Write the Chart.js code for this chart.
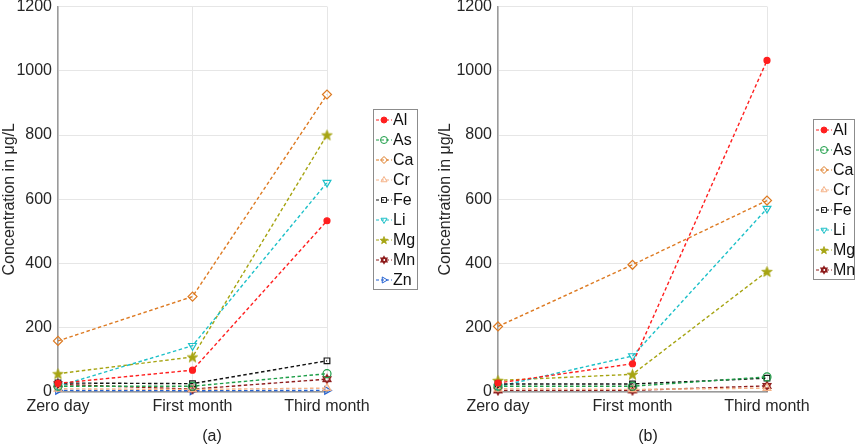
<!DOCTYPE html>
<html>
<head>
<meta charset="utf-8">
<script src="https://cdn.jsdelivr.net/npm/chart.js@4.4.1/dist/chart.umd.min.js"></script>
<style>
  html, body { margin: 0; padding: 0; background: #fff; }
  #wrap { position: relative; width: 858px; height: 447px; }
  .panel { position: absolute; top: 0; width: 429px; height: 447px; }
</style>
</head>
<body>
<div id="wrap">
  <div class="panel" style="left:0"><canvas id="chartA"></canvas></div>
  <div class="panel" style="left:429px"><canvas id="chartB"></canvas></div>
</div>
<script>
// sampling times and y ticks
const categories = ["Zero day", "First month", "Third month"];
const yTicks = [0, 200, 400, 600, 800, 1000, 1200];

// panel (a), µg/L
const elementsA = ["Al", "As", "Ca", "Cr", "Fe", "Li", "Mg", "Mn", "Zn"];
const alA = [27, 68, 533];
const asA = [18, 18, 57];
const caA = [159, 297, 926];
const crA = [10, 8, 12];
const feA = [28, 26, 97];
const liA = [18, 144, 652];
const mgA = [57, 109, 800];
const mnA = [24, 9, 40];
const znA = [5, 4, 5];

// panel (b), µg/L
const elementsB = ["Al", "As", "Ca", "Cr", "Fe", "Li", "Mg", "Mn"];
const alB = [28, 88, 1032];
const asB = [18, 18, 47];
const caB = [204, 396, 596];
const crB = [10, 8, 12];
const feB = [25, 25, 43];
const liB = [17, 112, 571];
const mgB = [36, 55, 375];
const mnB = [5, 5, 19];

const FONT = "'Liberation Sans', Arial, Helvetica, sans-serif";

// markers that chart.js has no built-in style for
function makeStar(color, r) {
    const size = Math.ceil(r * 2 + 2);
    const c = document.createElement("canvas");
    c.width = size; c.height = size;
    const g = c.getContext("2d");
    g.beginPath();
    for (let i = 0; i < 10; i++) {
        const rr = i % 2 === 0 ? r : r * 0.42;
        const a = -Math.PI / 2 + i * Math.PI / 5;
        g.lineTo(size / 2 + rr * Math.cos(a), size / 2 + 0.5 + rr * Math.sin(a));
    }
    g.closePath();
    g.fillStyle = color;
    g.fill();
    g.strokeStyle = color;
    g.lineWidth = 0.8;
    g.stroke();
    return c;
}

function makeHexagram(color, r) {
    const size = Math.ceil(r * 2 + 3);
    const c = document.createElement("canvas");
    c.width = size; c.height = size;
    const g = c.getContext("2d");
    g.strokeStyle = color;
    g.lineWidth = 1.3;
    [-Math.PI / 2, Math.PI / 2].forEach(function (start) {
        g.beginPath();
        for (let i = 0; i < 3; i++) {
            const a = start + i * 2 * Math.PI / 3;
            g.lineTo(size / 2 + r * Math.cos(a), size / 2 + r * Math.sin(a));
        }
        g.closePath();
        g.stroke();
    });
    return c;
}

const styles = {
    Al: { color: "#ff1f1f", pointStyle: "circle", radius: 3, fill: true },
    As: { color: "#1e9e48", pointStyle: "circle", radius: 4 },
    Ca: { color: "#dd7a22", pointStyle: "rectRot", radius: 4.5 },
    Cr: { color: "#f5b287", pointStyle: "triangle", radius: 4.5 },
    Fe: { color: "#141414", pointStyle: "rect", radius: 4 },
    Li: { color: "#1cc0c8", pointStyle: "triangle", radius: 4.5, rotation: 180 },
    Mg: { color: "#a6a412", pointStyle: makeStar("#a6a412", 5.5), legendStyle: makeStar("#a6a412", 4), radius: 5 },
    Mn: { color: "#8e1c1c", pointStyle: makeHexagram("#8e1c1c", 4.5), legendStyle: makeHexagram("#8e1c1c", 3.5), radius: 5 },
    Zn: { color: "#2462d2", pointStyle: "triangle", radius: 4.5, rotation: 90 },
};

function buildDataset(name, values) {
    const s = styles[name];
    return {
        label: name,
        data: values,
        borderColor: s.color,
        backgroundColor: s.color,
        borderWidth: 1.4,
        borderDash: [3.5, 2.5],
        tension: 0,
        fill: false,
        clip: false,
        pointStyle: s.pointStyle,
        pointRotation: s.rotation || 0,
        pointRadius: s.radius,
        pointBorderWidth: 1.2,
        pointBorderColor: s.color,
        pointBackgroundColor: s.fill ? s.color : "rgba(0,0,0,0)",
    };
}

// legend box (matlab style) + panel letter
const panelDecor = {
    id: "panelDecor",
    afterDraw(chart, args, opts) {
        const ctx = chart.ctx;
        const ca = chart.chartArea;
        const ds = chart.data.datasets;
        const rowH = 20;
        const h = ds.length * rowH;
        const top = Math.round((ca.top + ca.bottom) / 2 - h / 2);
        const left = opts.legendLeft;
        ctx.save();
        ctx.fillStyle = "#fff";
        ctx.fillRect(left, top, opts.legendWidth, h);
        ctx.strokeStyle = "#8c8c8c";
        ctx.lineWidth = 1;
        ctx.strokeRect(left + 0.5, top + 0.5, opts.legendWidth, h);
        ds.forEach(function (d, i) {
            const s = styles[d.label];
            const cy = top + rowH / 2 + i * rowH + 1;
            ctx.setLineDash([3, 2]);
            ctx.strokeStyle = d.borderColor;
            ctx.lineWidth = 1.2;
            ctx.beginPath();
            ctx.moveTo(left + 3, cy);
            ctx.lineTo(left + 19, cy);
            ctx.stroke();
            ctx.setLineDash([]);
            ctx.fillStyle = d.pointBackgroundColor;
            ctx.strokeStyle = d.pointBorderColor;
            ctx.lineWidth = 1;
            Chart.helpers.drawPoint(ctx, {
                pointStyle: s.legendStyle || d.pointStyle,
                rotation: d.pointRotation,
                radius: Math.min(d.pointRadius, 3.5),
                borderWidth: 1,
            }, left + 11, cy);
            ctx.fillStyle = "#111";
            ctx.font = "16px " + FONT;
            ctx.textAlign = "left";
            ctx.textBaseline = "middle";
            ctx.fillText(d.label, left + 20, cy + 1);
        });
        ctx.fillStyle = "#222";
        ctx.font = "16px " + FONT;
        ctx.textAlign = "center";
        ctx.textBaseline = "middle";
        ctx.fillText(opts.letter, opts.letterX, 437);
        ctx.restore();
    },
};

function createPanel(id, names, series, cfg) {
    const ctx = document.getElementById(id).getContext("2d");
    new Chart(ctx, {
        type: "line",
        data: {
            labels: categories,
            datasets: names.map(function (n, i) { return buildDataset(n, series[i]); }),
        },
        options: {
            responsive: true,
            maintainAspectRatio: false,
            animation: false,
            events: [],
            layout: { padding: { left: cfg.padLeft, right: cfg.padRight, top: 6.5, bottom: 0 } },
            plugins: {
                legend: { display: false },
                tooltip: { enabled: false },
                panelDecor: cfg.decor,
            },
            scales: {
                x: {
                    offset: false,
                    grid: { color: "#e6e6e6", drawTicks: false },
                    border: { display: true, color: "#9a9a9a", width: 1.5 },
                    ticks: { color: "#262626", font: { family: FONT, size: 16 }, padding: 5, maxRotation: 0 },
                    afterFit: function (s) { s.height = 55; s.paddingLeft = 0; s.paddingRight = 0; },
                },
                y: {
                    min: 0,
                    max: 1200,
                    afterBuildTicks: function (s) { s.ticks = yTicks.map(function (v) { return { value: v }; }); },
                    grid: { color: "#e6e6e6", drawTicks: false },
                    border: { display: true, color: "#9a9a9a", width: 1.5 },
                    ticks: {
                        color: "#262626",
                        font: { family: FONT, size: 16 },
                        padding: 6,
                        callback: function (v) { return String(v); },
                    },
                    title: {
                        display: true,
                        text: "Concentration in μg/L",
                        color: "#262626",
                        font: { family: FONT, size: 16 },
                        padding: { top: 0, bottom: 0 },
                    },
                    afterFit: function (s) { s.width = cfg.yWidth; s.paddingTop = 0; s.paddingBottom = 0; },
                },
            },
        },
        plugins: [panelDecor],
    });
}

createPanel("chartA", elementsA, [alA, asA, caA, crA, feA, liA, mgA, mnA, znA], {
    padLeft: 0, yWidth: 58, padRight: 102,
    decor: { legendLeft: 373, legendWidth: 44, letter: "(a)", letterX: 212 },
});

createPanel("chartB", elementsB, [alB, asB, caB, crB, feB, liB, mgB, mnB], {
    padLeft: 7, yWidth: 62, padRight: 91,
    decor: { legendLeft: 384, legendWidth: 41, letter: "(b)", letterX: 219 },
});
</script>
</body>
</html>
